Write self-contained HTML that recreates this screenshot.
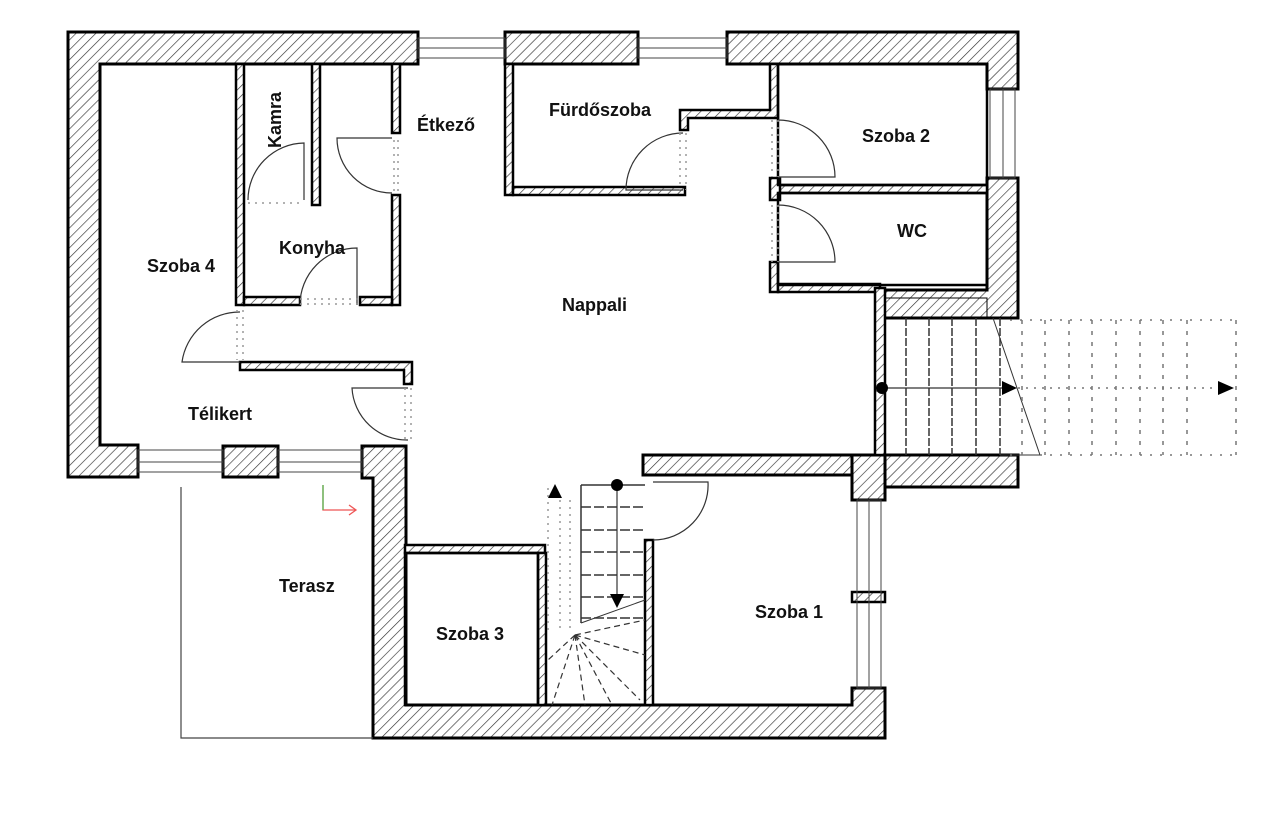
<!DOCTYPE html>
<html><head><meta charset="utf-8"><style>
html,body{margin:0;padding:0;background:#fff;}
svg{display:block}
text{font-family:"Liberation Sans",Arial,sans-serif;font-size:18px;font-weight:bold;fill:#111;}
</style></head><body>
<svg width="1280" height="822" viewBox="0 0 1280 822" xmlns="http://www.w3.org/2000/svg">
<defs>
<pattern id="h" patternUnits="userSpaceOnUse" width="7" height="7" patternTransform="rotate(45)">
<rect width="7" height="7" fill="#fff"/><line x1="0" y1="0" x2="0" y2="7" stroke="#333" stroke-width="1.3"/>
</pattern>
</defs>
<g fill="url(#h)" stroke="#000" stroke-width="3">
<path d="M68,32 H418 V64 H100 V445 H138 V477 H68 Z"/>
<rect x="223" y="446" width="55" height="31"/>
<path d="M362,446 H406 V705 H852 V688 H885 V738 H373 V478 H362 Z"/>
<rect x="505" y="32" width="133" height="32"/>
<path d="M727,32 H1018 V89 H987 V64 H727 Z"/>
<path d="M987,178 H1018 V318 H880 V290 H987 Z"/>
<rect x="880" y="455" width="138" height="32"/>
<rect x="852" y="455" width="33" height="45"/>
<rect x="643" y="455" width="209" height="20"/>
</g>
<g fill="url(#h)" stroke="#000" stroke-width="2.5">
<rect x="236" y="64" width="8" height="241"/>
<rect x="312" y="64" width="8" height="141"/>
<rect x="392" y="64" width="8" height="69"/>
<rect x="392" y="195" width="8" height="110"/>
<rect x="244" y="297" width="56" height="8"/>
<rect x="360" y="297" width="32" height="8"/>
<path d="M240,362 H412 V384 H404 V370 H240 Z"/>
<rect x="505" y="64" width="8" height="131"/>
<rect x="513" y="187" width="172" height="8"/>
<path d="M680,110 H770 V64 H778 V118 H688 V130 H680 Z"/>
<rect x="778" y="185" width="209" height="8"/>
<rect x="770" y="178" width="10" height="22"/>
<rect x="770" y="262" width="8" height="30"/>
<rect x="778" y="284" width="102" height="8"/>
<rect x="875" y="288" width="10" height="167"/>
<rect x="405" y="545" width="140" height="8"/>
<rect x="538" y="553" width="8" height="152"/>
<rect x="645" y="540" width="8" height="165"/>
<rect x="852" y="592" width="33" height="10"/>
</g>
<g fill="none" stroke="#000" stroke-width="2.5">
<rect x="405" y="553" width="133" height="152"/>
<rect x="778" y="64" width="209" height="121"/>
<rect x="778" y="193" width="209" height="92"/>
<rect x="885" y="298" width="102" height="20" stroke-width="1"/>
</g>
<g fill="none" stroke="#444" stroke-width="1">
<rect x="418" y="38" width="87" height="20"/><line x1="418" y1="48" x2="505" y2="48"/>
<rect x="638" y="38" width="89" height="20"/><line x1="638" y1="48" x2="727" y2="48"/>
<rect x="990" y="89" width="25" height="89"/><line x1="1003" y1="89" x2="1003" y2="178"/>
<rect x="138" y="450" width="85" height="22"/><line x1="138" y1="462" x2="223" y2="462"/>
<rect x="278" y="450" width="84" height="22"/><line x1="278" y1="462" x2="362" y2="462"/>
<rect x="857" y="500" width="24" height="188"/><line x1="869" y1="500" x2="869" y2="688"/>
</g>
<g fill="none" stroke="#333" stroke-width="1.2">
<path d="M304,200 V143 A57,57 0 0 0 248,200"/>
<path d="M392,138 H337 A55,55 0 0 0 392,193"/>
<path d="M683,190 H626 A57,57 0 0 1 683,133"/>
<path d="M778,177 H835 A57,57 0 0 0 778,120"/>
<path d="M778,262 H835 A57,57 0 0 0 778,205"/>
<path d="M357,305 V248 A57,57 0 0 0 300,305"/>
<path d="M240,362 H182 A58,58 0 0 1 240,312"/>
<path d="M408,440 A55,55 0 0 1 352,388 H408"/>
<path d="M653,540 A55,55 0 0 0 708,482 H653"/>
</g>
<g stroke="#999" stroke-width="1.5" stroke-dasharray="2,5" fill="none">
<line x1="248" y1="203" x2="304" y2="203"/>
<line x1="394" y1="140" x2="394" y2="193"/><line x1="398" y1="140" x2="398" y2="193"/>
<line x1="680" y1="133" x2="680" y2="190"/><line x1="686" y1="133" x2="686" y2="190"/>
<line x1="772" y1="120" x2="772" y2="177"/><line x1="778" y1="120" x2="778" y2="177"/>
<line x1="772" y1="205" x2="772" y2="262"/><line x1="778" y1="205" x2="778" y2="262"/>
<line x1="300" y1="299" x2="360" y2="299"/><line x1="300" y1="304" x2="360" y2="304"/>
<line x1="237" y1="310" x2="237" y2="360"/><line x1="243" y1="310" x2="243" y2="360"/>
<line x1="405" y1="388" x2="405" y2="440"/><line x1="411" y1="388" x2="411" y2="440"/>
</g>
<g stroke="#444" stroke-width="1.2" fill="none">
<path d="M181,487 V738 H373"/>
</g>
<path d="M323,485 V510 H355" fill="none" stroke="#e55" stroke-width="1.3"/>
<line x1="323" y1="485" x2="323" y2="510" stroke="#5b5" stroke-width="1.3"/>
<path d="M349,505 L356,510 L349,515" fill="none" stroke="#e55" stroke-width="1.3"/>
<g stroke="#333" stroke-width="1.5" fill="none">
<line x1="906" y1="318" x2="906" y2="455" stroke-dasharray="8,2"/>
<line x1="929" y1="318" x2="929" y2="455" stroke-dasharray="8,2"/>
<line x1="952" y1="318" x2="952" y2="455" stroke-dasharray="8,2"/>
<line x1="976" y1="318" x2="976" y2="455" stroke-dasharray="8,2"/>
<line x1="1000" y1="318" x2="1000" y2="455" stroke-dasharray="8,2"/>
<line x1="993" y1="318" x2="1040" y2="455" stroke-width="1"/>
<line x1="1000" y1="455" x2="1040" y2="455" stroke-width="1"/>
<line x1="882" y1="388" x2="1005" y2="388" stroke-width="1.2"/>
</g>
<g stroke="#777" stroke-width="1.5" stroke-dasharray="4,7" fill="none">
<line x1="1022" y1="320" x2="1022" y2="455"/><line x1="1045" y1="320" x2="1045" y2="455"/>
<line x1="1069" y1="320" x2="1069" y2="455"/><line x1="1092" y1="320" x2="1092" y2="455"/>
<line x1="1116" y1="320" x2="1116" y2="455"/><line x1="1140" y1="320" x2="1140" y2="455"/>
<line x1="1163" y1="320" x2="1163" y2="455"/><line x1="1187" y1="320" x2="1187" y2="455"/>
<line x1="1236" y1="320" x2="1236" y2="455"/>
<line x1="1010" y1="320" x2="1236" y2="320" stroke-dasharray="2,8"/>
<line x1="1010" y1="455" x2="1236" y2="455" stroke-dasharray="2,8"/>
<line x1="1010" y1="388" x2="1220" y2="388" stroke-dasharray="2,6"/>
</g>
<circle cx="882" cy="388" r="6"/>
<path d="M1002,381 L1017,388 L1002,395 Z"/>
<path d="M1218,381 L1234,388 L1218,395 Z"/>
<g stroke="#333" stroke-width="1.5" fill="none">
<line x1="581" y1="485" x2="581" y2="623"/>
<line x1="581" y1="485" x2="645" y2="485"/>
<line x1="581" y1="507" x2="645" y2="507" stroke-dasharray="10,3"/>
<line x1="581" y1="530" x2="645" y2="530" stroke-dasharray="10,3"/>
<line x1="581" y1="552" x2="645" y2="552" stroke-dasharray="10,3"/>
<line x1="581" y1="575" x2="645" y2="575" stroke-dasharray="10,3"/>
<line x1="581" y1="597" x2="645" y2="597" stroke-dasharray="10,3"/>
<line x1="581" y1="618" x2="645" y2="618" stroke-dasharray="10,3"/>
<line x1="617" y1="485" x2="617" y2="600" stroke-width="1.2"/>
<line x1="581" y1="623" x2="645" y2="600" stroke-width="1"/>
<g stroke-dasharray="6,4" stroke-width="1.2">
<line x1="575" y1="635" x2="548" y2="660"/>
<line x1="575" y1="635" x2="552" y2="705"/>
<line x1="575" y1="635" x2="585" y2="705"/>
<line x1="575" y1="635" x2="612" y2="705"/>
<line x1="575" y1="635" x2="640" y2="700"/>
<line x1="575" y1="635" x2="645" y2="655"/>
<line x1="575" y1="635" x2="645" y2="620"/>
</g>
</g>
<g stroke="#999" stroke-width="1.5" stroke-dasharray="2,5" fill="none">
<line x1="548" y1="488" x2="548" y2="630"/><line x1="560" y1="500" x2="560" y2="630"/><line x1="570" y1="500" x2="570" y2="630"/>
</g>
<circle cx="617" cy="485" r="6"/>
<path d="M610,594 L624,594 L617,608 Z"/>
<path d="M548,498 L562,498 L555,484 Z"/>
<text x="274" y="127" text-anchor="middle" transform="rotate(-90 274 120)">Kamra</text>
<text x="417" y="131">Étkező</text>
<text x="549" y="116">Fürdőszoba</text>
<text x="862" y="142">Szoba 2</text>
<text x="897" y="237">WC</text>
<text x="147" y="272">Szoba 4</text>
<text x="279" y="254">Konyha</text>
<text x="562" y="311">Nappali</text>
<text x="188" y="420">Télikert</text>
<text x="279" y="592">Terasz</text>
<text x="436" y="640">Szoba 3</text>
<text x="755" y="618">Szoba 1</text>
</svg>
</body></html>
